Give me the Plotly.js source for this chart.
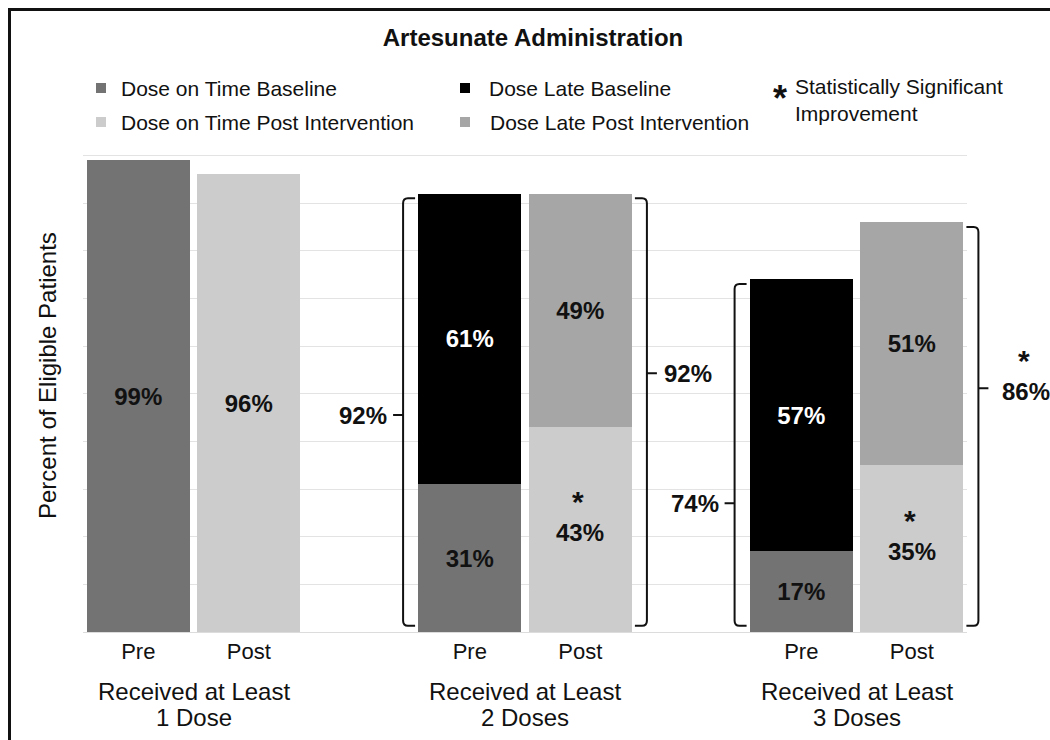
<!DOCTYPE html>
<html><head><meta charset="utf-8">
<script src="https://cdn.plot.ly/plotly-3.0.1.min.js"></script>
<style>
html,body{margin:0;padding:0;background:#fff;overflow:hidden;}
#wrap{position:relative;width:1050px;height:740px;overflow:hidden;}
#chart{position:absolute;left:0;top:0;width:1050px;height:740px;}
#frame{position:absolute;left:8px;top:8px;width:1100px;height:800px;border:3px solid #111;pointer-events:none;}
</style></head>
<body><div id="wrap"><div id="chart"></div><div id="frame"></div></div>
<script>
// ---------------- data ----------------
const titleText = 'Artesunate Administration';
const yTitle = 'Percent of Eligible Patients';
const groupPrefix = 'Received at Least';
const groups = ['1 Dose', '2 Doses', '3 Doses'];
const phases = ['Pre', 'Post'];
const onTimeBaseline = [99, 31, 17];
const lateBaseline   = [null, 61, 57];
const onTimePost     = [96, 43, 35];
const latePost       = [null, 49, 51];
const sigOnTimePost  = [false, true, true];
const sigTotalPost   = [false, false, true];
const seriesNames = ['Dose on Time Baseline', 'Dose Late Baseline',
                     'Dose on Time Post Intervention', 'Dose Late Post Intervention'];
const sigMark = '*';
const sigLabel = 'Statistically Significant<br>Improvement';

// ---------------- styles / layout constants ----------------
const FONT = 'Liberation Sans, Arial, Helvetica, sans-serif';
const colors = {onBase: '#737373', lateBase: '#000000', onPost: '#cccccc', latePost: '#a6a6a6'};
const W = 1050, H = 740;
const M = {l: 83, r: 83, t: 154, b: 107};
const XR = [-0.5, 7.5], YR = [-0.2, 100.3];
const plotW = W - M.l - M.r, plotH = H - M.t - M.b;
const PX = x => (x - M.l) / plotW;          // pixel -> paper x
const PY = y => (H - M.b - y) / plotH;      // pixel -> paper y
const X2P = x => (x - XR[0]) / (XR[1] - XR[0]);   // data x -> paper x
const px = 1 / plotW;                       // paper units per pixel (x)
const uy = (YR[1] - YR[0]) / plotH;         // data units per pixel (y)
const xPre = g => g * 3, xPost = g => g * 3 + 1;
const barW = 0.935;
const STAR_SIZE = 30, LABEL_SIZE = 24;
const labelDrop = -3, starLift = 28;        // px shifts for starred labels
// where the bracket nub sits, as fraction of the total (layout choice)
const nubFracPre  = [null, 0.495, 0.365];
const nubFracPost = [null, 0.59, 0.595];

// ---------------- traces ----------------
function mk(vals, xf, name, color, txtColor, sig) {
  const idx = vals.map((v, i) => i).filter(i => vals[i] !== null);
  return {
    type: 'bar', name: name,
    x: idx.map(xf), y: idx.map(i => vals[i]),
    text: idx.map(i => (sig && sig[i]) ? '' : '<b>' + vals[i] + '%</b>'), texttemplate: '%{text}',
    textposition: 'inside', insidetextanchor: 'middle', textangle: 0,
    insidetextfont: {family: FONT, size: LABEL_SIZE, color: txtColor},
    constraintext: 'none',
    width: barW, marker: {color: color, line: {width: 0}},
    hoverinfo: 'skip', showlegend: false
  };
}
const traces = [
  mk(onTimeBaseline, xPre, seriesNames[0], colors.onBase, '#111'),
  mk(onTimePost, xPost, seriesNames[2], colors.onPost, '#111', sigOnTimePost),
  mk(lateBaseline, xPre, seriesNames[1], colors.lateBase, '#ffffff'),
  mk(latePost, xPost, seriesNames[3], colors.latePost, '#111')
];

// ---------------- annotations & shapes ----------------
const ann = [], shapes = [];
const txt = (o) => Object.assign({showarrow: false, font: {family: FONT, size: 21, color: '#111'}}, o);
function starredLabel(xref, x, y, v, xshift) {
  ann.push(txt({xref: xref, yref: 'y', x: x, y: y, xshift: xshift, yshift: labelDrop,
    text: '<b>' + v + '%</b>', font: {family: FONT, size: LABEL_SIZE, color: '#111'},
    xanchor: 'center', yanchor: 'middle'}));
  ann.push(txt({xref: xref, yref: 'y', x: x, y: y, xshift: xshift - 2, yshift: starLift,
    text: '<b>' + sigMark + '</b>', font: {family: FONT, size: STAR_SIZE, color: '#111'},
    xanchor: 'center', yanchor: 'middle'}));
}

// y-axis title
ann.push(txt({xref: 'paper', yref: 'paper', x: PX(47), y: PY(376), text: yTitle, textangle: -90,
  font: {family: FONT, size: 24, color: '#111'}, xanchor: 'center', yanchor: 'middle'}));

// group labels
groups.forEach((g, i) => {
  const xc = (xPre(i) + xPost(i)) / 2;
  ann.push(txt({xref: 'x', yref: 'paper', x: xc, y: PY(691), text: groupPrefix,
    font: {family: FONT, size: 24, color: '#111'}, yanchor: 'middle'}));
  ann.push(txt({xref: 'x', yref: 'paper', x: xc, y: PY(717), text: g,
    font: {family: FONT, size: 24, color: '#111'}, yanchor: 'middle'}));
});

// legend
const legendItems = [
  {name: seriesNames[0], color: colors.onBase,   sx: 101, tx: 119, y: 88},
  {name: seriesNames[2], color: colors.onPost,   sx: 101, tx: 119, y: 122},
  {name: seriesNames[1], color: colors.lateBase, sx: 465, tx: 487, y: 88},
  {name: seriesNames[3], color: colors.latePost, sx: 465, tx: 488, y: 122}
];
legendItems.forEach(it => {
  shapes.push({type: 'rect', xref: 'paper', yref: 'paper',
    x0: PX(it.sx - 5), x1: PX(it.sx + 5), y0: PY(it.y + 5), y1: PY(it.y - 5),
    fillcolor: it.color, line: {width: 0}});
  ann.push(txt({xref: 'paper', yref: 'paper', x: PX(it.tx), y: PY(it.y), text: it.name,
    xanchor: 'left', yanchor: 'middle'}));
});
ann.push(txt({xref: 'paper', yref: 'paper', x: PX(780), y: PY(98), text: '<b>' + sigMark + '</b>',
  font: {family: FONT, size: 36, color: '#111'}, xanchor: 'center', yanchor: 'middle'}));
ann.push(txt({xref: 'paper', yref: 'paper', x: PX(793), y: PY(100), text: sigLabel,
  xanchor: 'left', yanchor: 'middle', align: 'left'}));

// significant on-time post segments: star above the value
onTimePost.forEach((v, i) => {
  if (sigOnTimePost[i]) starredLabel('x', xPost(i), v / 2, v, 0);
});

// brackets with totals (x in paper units so they may sit outside the plot area)
function bracket(xEdgeP, side, yb, yt, ym) {
  const xv = xEdgeP + side * 15 * px, s = -side * 12 * px, t = side * 10 * px, ry = 5 * uy;
  return 'M' + (xv + s) + ',' + yt + ' L' + (xv + s * 0.4) + ',' + yt +
    ' Q' + xv + ',' + yt + ' ' + xv + ',' + (yt - ry) +
    ' L' + xv + ',' + (yb + ry) + ' Q' + xv + ',' + yb + ' ' + (xv + s * 0.4) + ',' + yb +
    ' L' + (xv + s) + ',' + yb + ' M' + xv + ',' + ym + ' L' + (xv + t) + ',' + ym;
}
groups.forEach((g, i) => {
  if (lateBaseline[i] !== null) {
    const tot = onTimeBaseline[i] + lateBaseline[i];
    const ym = tot * nubFracPre[i];
    const edge = X2P(xPre(i) - barW / 2);
    shapes.push({type: 'path', xref: 'paper', yref: 'y', path: bracket(edge, -1, 1.3, tot - 1, ym),
      line: {color: '#111', width: 2}});
    ann.push(txt({xref: 'paper', yref: 'y', x: edge - 25 * px, y: ym, xshift: -4, text: '<b>' + tot + '%</b>',
      font: {family: FONT, size: LABEL_SIZE, color: '#111'}, xanchor: 'right', yanchor: 'middle'}));
  }
  if (latePost[i] !== null) {
    const tot = onTimePost[i] + latePost[i];
    const ym = tot * nubFracPost[i];
    const edge = X2P(xPost(i) + barW / 2);
    shapes.push({type: 'path', xref: 'paper', yref: 'y', path: bracket(edge, 1, 1.3, tot - 1, ym),
      line: {color: '#111', width: 2}});
    if (sigTotalPost[i]) {
      starredLabel('paper', edge + 25 * px, ym, tot, 38);
    } else {
      ann.push(txt({xref: 'paper', yref: 'y', x: edge + 25 * px, y: ym, xshift: 5, text: '<b>' + tot + '%</b>',
        font: {family: FONT, size: LABEL_SIZE, color: '#111'}, xanchor: 'left', yanchor: 'middle'}));
    }
  }
});

// ---------------- layout ----------------
const tickvals = [], ticktext = [];
groups.forEach((g, i) => { tickvals.push(xPre(i), xPost(i)); ticktext.push(phases[0], phases[1]); });

const layout = {
  width: W, height: H, margin: M,
  paper_bgcolor: '#ffffff', plot_bgcolor: '#ffffff',
  barmode: 'stack', showlegend: false,
  font: {family: FONT, color: '#111'},
  title: {text: '<b>' + titleText + '</b>', font: {family: FONT, size: 24, color: '#111'},
    x: 533 / W, xanchor: 'center', xref: 'container', y: 1 - 38 / H, yanchor: 'middle', yref: 'container'},
  xaxis: {range: XR, tickvals: tickvals, ticktext: ticktext, showgrid: false, zeroline: false,
    showline: false, ticks: '', ticklabelstandoff: 3, tickfont: {family: FONT, size: 22, color: '#111'}, fixedrange: true},
  yaxis: {range: YR, dtick: 10, tick0: 0, showticklabels: false, showgrid: true, gridcolor: '#e3e3e3',
    gridwidth: 1, zeroline: true, zerolinecolor: '#dcdcdc', zerolinewidth: 1, showline: false, ticks: '', fixedrange: true},
  annotations: ann, shapes: shapes
};
Plotly.newPlot('chart', traces, layout, {displayModeBar: false, staticPlot: true});
</script>
</body></html>
